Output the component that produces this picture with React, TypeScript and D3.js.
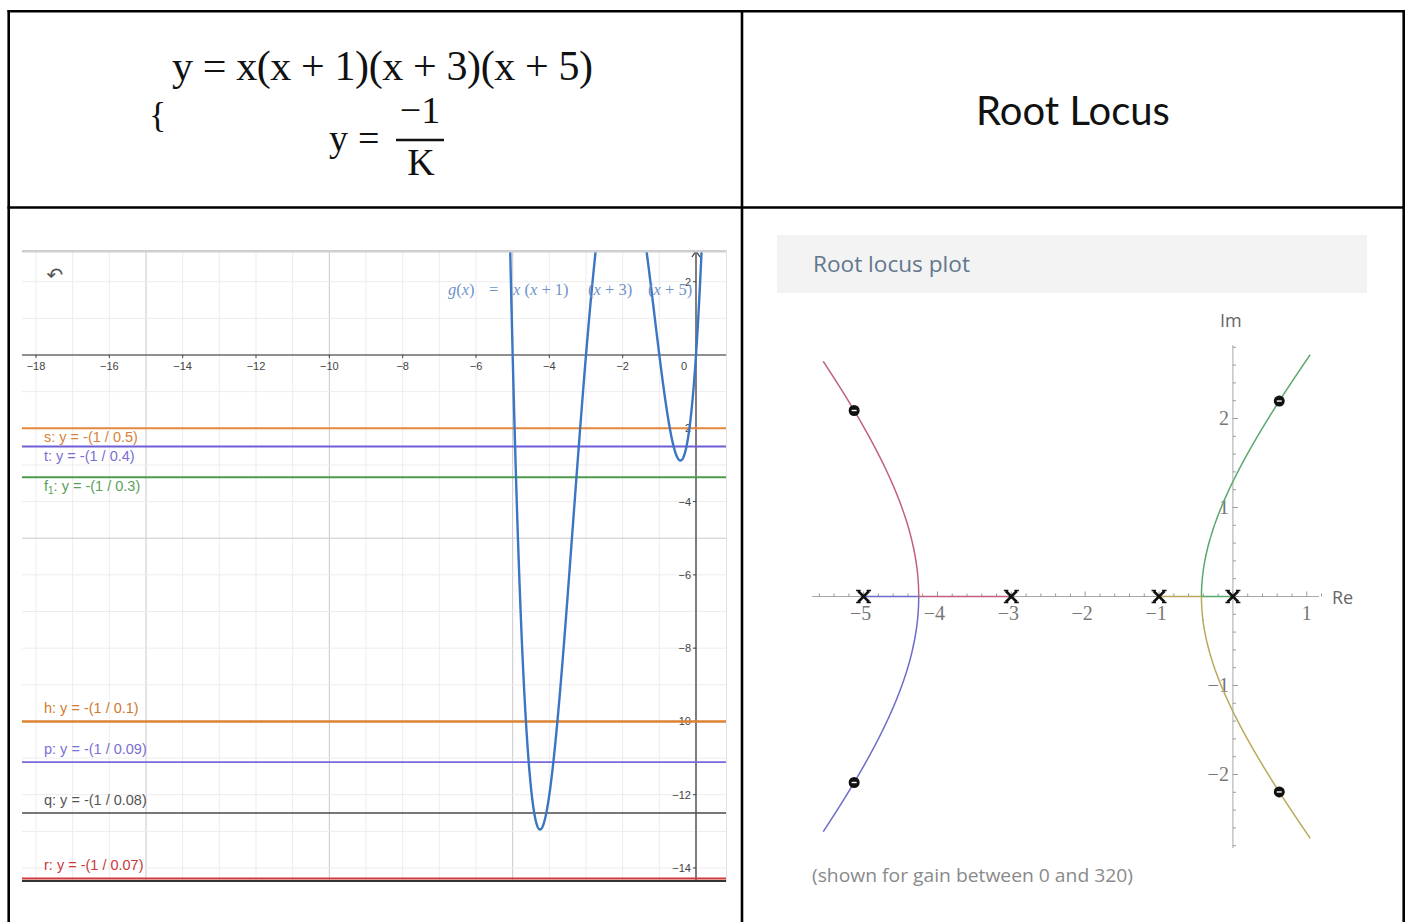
import React, { useMemo } from "react";
import * as d3 from "d3";

// ---------- left panel: g(x) with horizontal lines y = -1/K ----------
const gZeros = [0, -1, -3, -5];
const xTickValues = [-18, -16, -14, -12, -10, -8, -6, -4, -2, 0];
const yTickValues = [2, -2, -4, -6, -8, -10, -12, -14];
const lineNames = ["s", "t", "f1", "h", "p", "q", "r"];
const lineGains = [0.5, 0.4, 0.3, 0.1, 0.09, 0.08, 0.07];

// ---------- right panel: root locus of K / (s(s+1)(s+3)(s+5)) ----------
const olPoles = [0, -1, -3, -5];
const gainMax = 320;
const markedGain = 160;
const reTickValues = [-5, -4, -3, -2, -1, 1];
const imTickValues = [2, 1, -1, -2];

// styles
const lineColors = ["#e5883b", "#6e5fd8", "#4d9b4d", "#dc8233", "#7669dc", "#4a4a4a", "#cf3b3b"];
const labelColors = ["#d9823a", "#7a6fd2", "#58a058", "#d07a30", "#7a70d4", "#555555", "#c83a3a"];
const lineWidths = [2, 2, 2, 2.4, 1.6, 1.6, 2];
const branchColors = { blue: "#6d6cc9", red: "#c0607f", green: "#5aa86c", olive: "#bba85c" };

type Cx = { re: number; im: number };

function polyFromRoots(roots: number[]): number[] {
  let c = [1];
  for (const r of roots) {
    const next = new Array(c.length + 1).fill(0);
    for (let i = 0; i < c.length; i++) {
      next[i] += c[i];
      next[i + 1] -= r * c[i];
    }
    c = next;
  }
  return c;
}

function evalPoly(c: number[], x: number) {
  return c.reduce((acc, v) => acc * x + v, 0);
}

// Durand-Kerner root finder for a monic polynomial (highest power first)
function rootsOf(coef: number[]): Cx[] {
  const n = coef.length - 1;
  const z: Cx[] = [];
  let cr = 1, ci = 0;
  for (let k = 0; k < n; k++) {
    z.push({ re: cr, im: ci });
    const nr = cr * 0.4 - ci * 0.9;
    const ni = cr * 0.9 + ci * 0.4;
    cr = nr; ci = ni;
  }
  for (let it = 0; it < 400; it++) {
    let maxDelta = 0;
    for (let i = 0; i < n; i++) {
      let pr = coef[0], pi = 0;
      for (let c = 1; c <= n; c++) {
        const nr = pr * z[i].re - pi * z[i].im + coef[c];
        const ni = pr * z[i].im + pi * z[i].re;
        pr = nr; pi = ni;
      }
      let dr = 1, di = 0;
      for (let j = 0; j < n; j++) {
        if (j === i) continue;
        const ar = z[i].re - z[j].re, ai = z[i].im - z[j].im;
        const nr = dr * ar - di * ai;
        const ni = dr * ai + di * ar;
        dr = nr; di = ni;
      }
      const den = dr * dr + di * di;
      if (den === 0) continue;
      const qr = (pr * dr + pi * di) / den;
      const qi = (pi * dr - pr * di) / den;
      z[i] = { re: z[i].re - qr, im: z[i].im - qi };
      maxDelta = Math.max(maxDelta, Math.abs(qr) + Math.abs(qi));
    }
    if (maxDelta < 1e-14) break;
  }
  return z;
}

function closedLoopRoots(k: number): Cx[] {
  const c = polyFromRoots(olPoles);
  c[c.length - 1] += k;
  return rootsOf(c);
}

type Branches = { blue: Cx[]; red: Cx[]; green: Cx[]; olive: Cx[] };

function splitPair(pair: Cx[]): [Cx, Cx] {
  const tol = 1e-6;
  const [a, b] = pair;
  if (Math.abs(a.im) < tol && Math.abs(b.im) < tol) {
    const ra = { re: a.re, im: 0 }, rb = { re: b.re, im: 0 };
    return a.re < b.re ? [ra, rb] : [rb, ra];
  }
  return a.im < b.im ? [a, b] : [b, a];
}

function computeLocus(): Branches {
  const centroid = d3.mean(olPoles) as number;
  const gains = [...d3.range(0, 20, 0.002), ...d3.range(20, gainMax, 0.2), gainMax];
  const out: Branches = { blue: [], red: [], green: [], olive: [] };
  for (const k of gains) {
    const rs = closedLoopRoots(k);
    const left = rs.filter((r) => r.re < centroid);
    const right = rs.filter((r) => r.re >= centroid);
    if (left.length !== 2 || right.length !== 2) continue;
    const [l0, l1] = splitPair(left);
    const [r0, r1] = splitPair(right);
    out.blue.push(l0);
    out.red.push(l1);
    out.olive.push(r0);
    out.green.push(r1);
  }
  return out;
}

const fmt = (v: number) => (v < 0 ? "\u2212" + Math.abs(v) : String(v));

export default function App() {
  // left panel scales (GeoGebra view)
  const xL = d3.scaleLinear().domain([-18, 0]).range([36, 696]);
  const yL = d3.scaleLinear().domain([0, -14]).range([355, 868]);
  const plotL = { x0: 22, x1: 727, y0: 250, y1: 882 };

  const gCoef = polyFromRoots(gZeros);
  const curveXs = d3.range(-5.45, 0.95, 0.004);
  const gPath =
    d3
      .line<number>()
      .x((x) => xL(x))
      .y((x) => yL(evalPoly(gCoef, x)))
      .defined((x) => Math.abs(evalPoly(gCoef, x)) < 40)(curveXs) || "";

  const minorX = d3.range(-19, 2);
  const minorY = d3.range(-15, 4);

  // right panel scales (root locus)
  const xR = d3.scaleLinear().domain([-5, 0]).range([863.6, 1232.9]);
  const yR = d3.scaleLinear().domain([0, 2]).range([596.5, 418.5]);

  const locus = useMemo(() => computeLocus(), []);
  const marked = useMemo(() => closedLoopRoots(markedGain), []);
  const locusLine = d3
    .line<Cx>()
    .x((d) => xR(d.re))
    .y((d) => yR(d.im));

  const reMinor = d3.range(-28, 7).map((i) => i * 0.2);
  const imMinor = d3.range(-14, 15).map((i) => i * 0.2);

  const sans = "'Liberation Sans', Arial, sans-serif";
  const serif = "'Liberation Serif', 'Times New Roman', serif";
  const fnColor = "#6f93c9";

  return (
    <svg
      width={1408}
      height={922}
      viewBox="0 0 1408 922"
      style={{ position: "absolute", left: 0, top: 0, background: "#fff" }}
    >
      <rect x={0} y={0} width={1408} height={922} fill="#fff" />

      {/* ---- table header cells ---- */}
      <g fontFamily={serif} fill="#111">
        <text x={172} y={80} fontSize={42} textLength={421} lengthAdjust="spacing">
          y = x(x + 1)(x + 3)(x + 5)
        </text>
        <text x={149} y={127} fontSize={36}>{"{"}</text>
        <text x={329} y={151} fontSize={38}>y</text>
        <text x={358} y={151} fontSize={38}>=</text>
        <text x={420} y={123} fontSize={38} textAnchor="middle">{"\u22121"}</text>
        <line x1={396} x2={444} y1={140} y2={140} stroke="#111" strokeWidth={2.4} />
        <text x={421} y={175} fontSize={38} textAnchor="middle">K</text>
      </g>
      <text
        x={1073}
        y={125}
        fontSize={40}
        fontFamily="Lato, 'Open Sans', sans-serif"
        textAnchor="middle"
        fill="#111"
      >
        Root Locus
      </text>

      {/* ---- GeoGebra panel ---- */}
      <defs>
        <clipPath id="ggbClip">
          <rect x={plotL.x0} y={plotL.y0} width={plotL.x1 - plotL.x0} height={plotL.y1 - plotL.y0} />
        </clipPath>
      </defs>
      <g clipPath="url(#ggbClip)">
        {minorX.map((v) => (
          <line
            key={"gx" + v}
            x1={xL(v)}
            x2={xL(v)}
            y1={plotL.y0}
            y2={plotL.y1}
            stroke={v % 5 === 0 ? "#c9c9c9" : "#ededed"}
            strokeWidth={1}
          />
        ))}
        {minorY.map((v) => (
          <line
            key={"gy" + v}
            x1={plotL.x0}
            x2={plotL.x1}
            y1={yL(v)}
            y2={yL(v)}
            stroke={v % 5 === 0 ? "#c9c9c9" : "#ededed"}
            strokeWidth={1}
          />
        ))}
        {/* axes */}
        <line x1={plotL.x0} x2={plotL.x1} y1={yL(0)} y2={yL(0)} stroke="#3a3a3a" strokeWidth={1.2} />
        <line x1={xL(0)} x2={xL(0)} y1={plotL.y0} y2={plotL.y1} stroke="#3a3a3a" strokeWidth={1.2} />
        <path
          d={`M${xL(0) - 4},${plotL.y0 + 7} L${xL(0)},${plotL.y0 + 1} L${xL(0) + 4},${plotL.y0 + 7}`}
          fill="none"
          stroke="#3a3a3a"
          strokeWidth={1.2}
        />
        {xTickValues.map((v) => (
          <g key={"xt" + v}>
            {v !== 0 && (
              <line x1={xL(v)} x2={xL(v)} y1={yL(0)} y2={yL(0) + 3} stroke="#444" strokeWidth={1} />
            )}
            <text
              x={v === 0 ? xL(v) - 12 : xL(v)}
              y={yL(0) + 15}
              fontSize={11}
              fontFamily={sans}
              textAnchor="middle"
              fill="#444"
            >
              {fmt(v)}
            </text>
          </g>
        ))}
        {yTickValues.map((v) => (
          <g key={"yt" + v}>
            <line x1={xL(0) - 3} x2={xL(0)} y1={yL(v)} y2={yL(v)} stroke="#444" strokeWidth={1} />
            <text
              x={xL(0) - 5}
              y={yL(v) + 4}
              fontSize={11}
              fontFamily={sans}
              textAnchor="end"
              fill="#444"
            >
              {fmt(v)}
            </text>
          </g>
        ))}

        {/* y = -1/K lines */}
        {lineGains.map((k, i) => (
          <line
            key={"hl" + i}
            x1={plotL.x0}
            x2={plotL.x1}
            y1={yL(-1 / k)}
            y2={yL(-1 / k)}
            stroke={lineColors[i]}
            strokeWidth={lineWidths[i]}
          />
        ))}

        {/* g(x) */}
        <path d={gPath} fill="none" stroke="#3a76c2" strokeWidth={2.4} />

        {/* line labels */}
        {lineGains.map((k, i) => {
          const yy = yL(-1 / k) + (k >= 0.3 ? 14 : -8.5);
          const name = lineNames[i];
          return (
            <text key={"lb" + i} x={44} y={yy} fontSize={14.5} fontFamily={sans} fill={labelColors[i]}>
              {name === "f1" ? (
                <>
                  f<tspan fontSize={10} dy={3}>1</tspan>
                  <tspan dy={-3}>{`: y = -(1 / ${k})`}</tspan>
                </>
              ) : (
                `${name}: y = -(1 / ${k})`
              )}
            </text>
          );
        })}

        {/* function label */}
        <g fontSize={16.5} fontFamily={serif} fill={fnColor}>
          <text x={448} y={295}>
            <tspan fontStyle="italic">g</tspan>(<tspan fontStyle="italic">x</tspan>)
          </text>
          <text x={489} y={295}>=</text>
          <text x={513} y={295}>
            <tspan fontStyle="italic">x</tspan> (<tspan fontStyle="italic">x</tspan> + 1)
          </text>
          <text x={588} y={295}>
            (<tspan fontStyle="italic">x</tspan> + 3)
          </text>
          <text x={648} y={295}>
            (<tspan fontStyle="italic">x</tspan> + 5)
          </text>
        </g>

        {/* undo icon */}
        <text x={55} y={282} fontSize={20} fontFamily="'DejaVu Sans', sans-serif" textAnchor="middle" fill="#555">
          {"\u21B6"}
        </text>

        <line x1={plotL.x0} x2={plotL.x1} y1={plotL.y0 + 1} y2={plotL.y0 + 1} stroke="#cfcfcf" strokeWidth={3} />
        <line x1={plotL.x0} x2={plotL.x1} y1={plotL.y1 - 1} y2={plotL.y1 - 1} stroke="#333" strokeWidth={2} />
        <line x1={plotL.x1 - 0.5} x2={plotL.x1 - 0.5} y1={plotL.y0} y2={plotL.y1} stroke="#e2e2e2" strokeWidth={1} />
      </g>

      {/* ---- Root locus panel ---- */}
      <rect x={777} y={235} width={590} height={58} fill="#f3f3f3" />
      <text x={813} y={272} fontSize={21} fontFamily="'Open Sans', sans-serif" fill="#62778e" textLength={157} lengthAdjust="spacingAndGlyphs">
        Root locus plot
      </text>

      {/* axes */}
      <line x1={812} x2={1319} y1={yR(0)} y2={yR(0)} stroke="#a8a8a8" strokeWidth={1} />
      <line x1={xR(0)} x2={xR(0)} y1={345} y2={848} stroke="#a8a8a8" strokeWidth={1} />
      {reMinor.map((v) => {
        const major = Math.abs(v - Math.round(v)) < 1e-9;
        return (
          <line
            key={"rt" + v.toFixed(1)}
            x1={xR(v)}
            x2={xR(v)}
            y1={yR(0)}
            y2={yR(0) - (major ? 5 : 3)}
            stroke="#999"
            strokeWidth={1}
          />
        );
      })}
      {imMinor.map((v) => {
        const major = Math.abs(v - Math.round(v)) < 1e-9;
        return (
          <line
            key={"it" + v.toFixed(1)}
            x1={xR(0)}
            x2={xR(0) + (major ? 5 : 3)}
            y1={yR(v)}
            y2={yR(v)}
            stroke="#999"
            strokeWidth={1}
          />
        );
      })}
      {reTickValues.map((v) => (
        <text
          key={"rl" + v}
          x={xR(v) - (v < 0 ? 3 : 0)}
          y={yR(0) + 23}
          fontSize={20}
          fontFamily={serif}
          textAnchor="middle"
          fill="#777"
        >
          {fmt(v)}
        </text>
      ))}
      {imTickValues.map((v) => (
        <text
          key={"il" + v}
          x={xR(0) - 4}
          y={yR(v) + 6}
          fontSize={20}
          fontFamily={serif}
          textAnchor="end"
          fill="#777"
        >
          {fmt(v)}
        </text>
      ))}
      <text x={xR(0) - 2} y={327} fontSize={18} fontFamily="'Open Sans', sans-serif" textAnchor="middle" fill="#666">
        Im
      </text>
      <text x={1332} y={604} fontSize={18} fontFamily="'Open Sans', sans-serif" fill="#666">
        Re
      </text>

      {/* locus branches */}
      {(Object.keys(locus) as (keyof Branches)[]).map((key) => (
        <path
          key={key}
          d={locusLine(locus[key]) || ""}
          fill="none"
          stroke={branchColors[key]}
          strokeWidth={1.5}
        />
      ))}

      {/* open-loop poles */}
      {olPoles.map((p) => {
        const cx = xR(p), cy = yR(0);
        return (
          <g key={"pole" + p} stroke="#111" strokeWidth={2.6} strokeLinecap="butt">
            <line x1={cx - 5.5} y1={cy - 5.5} x2={cx + 5.5} y2={cy + 5.5} />
            <line x1={cx - 5.5} y1={cy + 5.5} x2={cx + 5.5} y2={cy - 5.5} />
            <line x1={cx - 7.5} y1={cy - 6} x2={cx - 3} y2={cy - 6} strokeWidth={1.5} />
            <line x1={cx + 3} y1={cy - 6} x2={cx + 7.5} y2={cy - 6} strokeWidth={1.5} />
            <line x1={cx - 7.5} y1={cy + 6} x2={cx - 3} y2={cy + 6} strokeWidth={1.5} />
            <line x1={cx + 3} y1={cy + 6} x2={cx + 7.5} y2={cy + 6} strokeWidth={1.5} />
          </g>
        );
      })}

      {/* closed-loop poles at the marked gain */}
      {marked.map((r, i) => (
        <g key={"cl" + i}>
          <circle cx={xR(r.re)} cy={yR(r.im)} r={5.5} fill="#111" />
          <line
            x1={xR(r.re) - 2.5}
            x2={xR(r.re) + 2.5}
            y1={yR(r.im)}
            y2={yR(r.im)}
            stroke="#fff"
            strokeWidth={1.4}
          />
        </g>
      ))}

      <text x={812} y={882} fontSize={18} fontFamily="'Open Sans', sans-serif" fill="#8a8a8a" textLength={321} lengthAdjust="spacingAndGlyphs">
        (shown for gain between 0 and {gainMax})
      </text>

      {/* ---- table grid ---- */}
      <g stroke="#000" strokeWidth={2.6}>
        <line x1={7.5} x2={1405} y1={11.3} y2={11.3} />
        <line x1={8.7} x2={8.7} y1={10} y2={922} />
        <line x1={1403.7} x2={1403.7} y1={10} y2={922} />
        <line x1={742} x2={742} y1={10} y2={922} />
        <line x1={7.5} x2={1405} y1={207.5} y2={207.5} />
      </g>
    </svg>
  );
}
